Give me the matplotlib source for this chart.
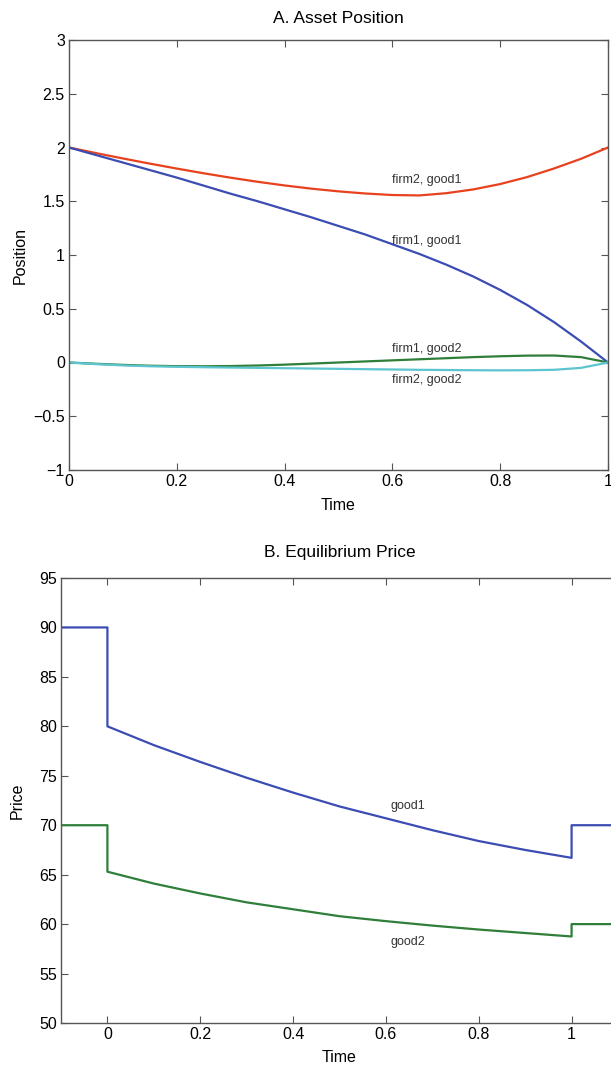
import numpy as np
import matplotlib.pyplot as plt

plt.rcParams['font.family'] = ['Liberation Sans', 'DejaVu Sans']

# panel A data
t_a = [0, .05, .1, .15, .2, .25, .3, .35, .4, .45, .5, .55, .6, .65, .7, .75, .8, .85, .9, .95, 1]
firm2_good1 = [2.00, 1.948, 1.898, 1.850, 1.804, 1.760, 1.719, 1.681, 1.647, 1.617, 1.592, 1.572, 1.558,
               1.554, 1.575, 1.61, 1.66, 1.725, 1.805, 1.895, 2.00]
firm1_good1 = [2.00, 1.93, 1.86, 1.79, 1.72, 1.645, 1.57, 1.50, 1.425, 1.35, 1.27, 1.19, 1.10,
               1.01, 0.91, 0.80, 0.675, 0.535, 0.375, 0.195, 0.00]
firm1_good2 = [0, -0.012, -0.022, -0.03, -0.034, -0.035, -0.033, -0.028, -0.02, -0.01, 0,
               0.01, 0.02, 0.03, 0.04, 0.05, 0.058, 0.064, 0.065, 0.05, 0.0]
firm2_good2 = [0, -0.015, -0.027, -0.035, -0.04, -0.044, -0.047, -0.05, -0.053, -0.056, -0.059,
               -0.062, -0.065, -0.068, -0.07, -0.072, -0.073, -0.072, -0.068, -0.05, 0.0]

# panel B data
t_b = [0, .1, .2, .3, .4, .5, .6, .7, .8, .9, 1]
good1 = [80, 78.1, 76.4, 74.8, 73.3, 71.9, 70.7, 69.5, 68.4, 67.5, 66.7]
good2 = [65.3, 64.1, 63.1, 62.2, 61.5, 60.8, 60.3, 59.85, 59.45, 59.1, 58.75]
pre_price = {'good1': 90, 'good2': 70}
post_price = {'good1': 70, 'good2': 60}

blue = '#3b4cb2'
red = '#e8411e'
green = '#2f7f3a'
cyan = '#5cc5cf'
spine = '#555555'

fig = plt.figure(figsize=(6.11, 10.69), dpi=100)


def style(ax):
    for s in ax.spines.values():
        s.set_color(spine)
        s.set_linewidth(1.0)
    ax.tick_params(direction='in', length=5, width=0.8, color=spine,
                   top=True, right=True, labelsize=11.5, pad=3)


# A. Asset Position
ax1 = fig.add_axes([69/611, 1-470/1069, (608-69)/611, (470-40)/1069])
ax1.plot(t_a, firm2_good1, color=red, lw=1.6)
ax1.plot(t_a, firm1_good1, color=blue, lw=1.6)
ax1.plot(t_a, firm1_good2, color=green, lw=1.6)
ax1.plot(t_a, firm2_good2, color=cyan, lw=1.6)
ax1.set_xlim(0, 1)
ax1.set_ylim(-1, 3)
ax1.set_xticks([0, 0.2, 0.4, 0.6, 0.8, 1])
ax1.set_xticklabels(['0', '0.2', '0.4', '0.6', '0.8', '1'])
ax1.set_yticks(np.arange(-1, 3.01, 0.5))
ax1.set_yticklabels(['\u22121', '\u22120.5', '0', '0.5', '1', '1.5', '2', '2.5', '3'])
ax1.text(0.6, 1.70, 'firm2, good1', fontsize=9, color='#333333', va='center')
ax1.text(0.6, 1.13, 'firm1, good1', fontsize=9, color='#333333', va='center')
ax1.text(0.6, 0.13, 'firm1, good2', fontsize=9, color='#333333', va='center')
ax1.text(0.6, -0.16, 'firm2, good2', fontsize=9, color='#333333', va='center')
ax1.set_title('A. Asset Position', fontsize=12.5, pad=12)
ax1.set_xlabel('Time', fontsize=11.5, labelpad=6)
ax1.set_ylabel('Position', fontsize=11.5, labelpad=4)
style(ax1)

# B. Equilibrium Price
ax2 = fig.add_axes([61/611, 1-1023/1069, (618-61)/611, (1023-578)/1069])
for name, vals, c in [('good1', good1, blue), ('good2', good2, green)]:
    xs = [-0.1, 0] + t_b + [1, 1.1]
    ys = [pre_price[name]] * 2 + vals + [post_price[name]] * 2
    ax2.plot(xs, ys, color=c, lw=1.6)
ax2.set_xlim(-0.1, 1.1)
ax2.set_ylim(50, 95)
ax2.set_xticks([0, 0.2, 0.4, 0.6, 0.8, 1])
ax2.set_xticklabels(['0', '0.2', '0.4', '0.6', '0.8', '1'])
ax2.set_yticks(np.arange(50, 96, 5))
ax2.text(0.61, 71.9, 'good1', fontsize=9, color='#333333', va='center')
ax2.text(0.61, 58.2, 'good2', fontsize=9, color='#333333', va='center')
ax2.set_title('B. Equilibrium Price', fontsize=12.5, pad=15)
ax2.set_xlabel('Time', fontsize=11.5, labelpad=6)
ax2.set_ylabel('Price', fontsize=11.5, labelpad=10)
style(ax2)

plt.savefig('out.png', dpi=100)
